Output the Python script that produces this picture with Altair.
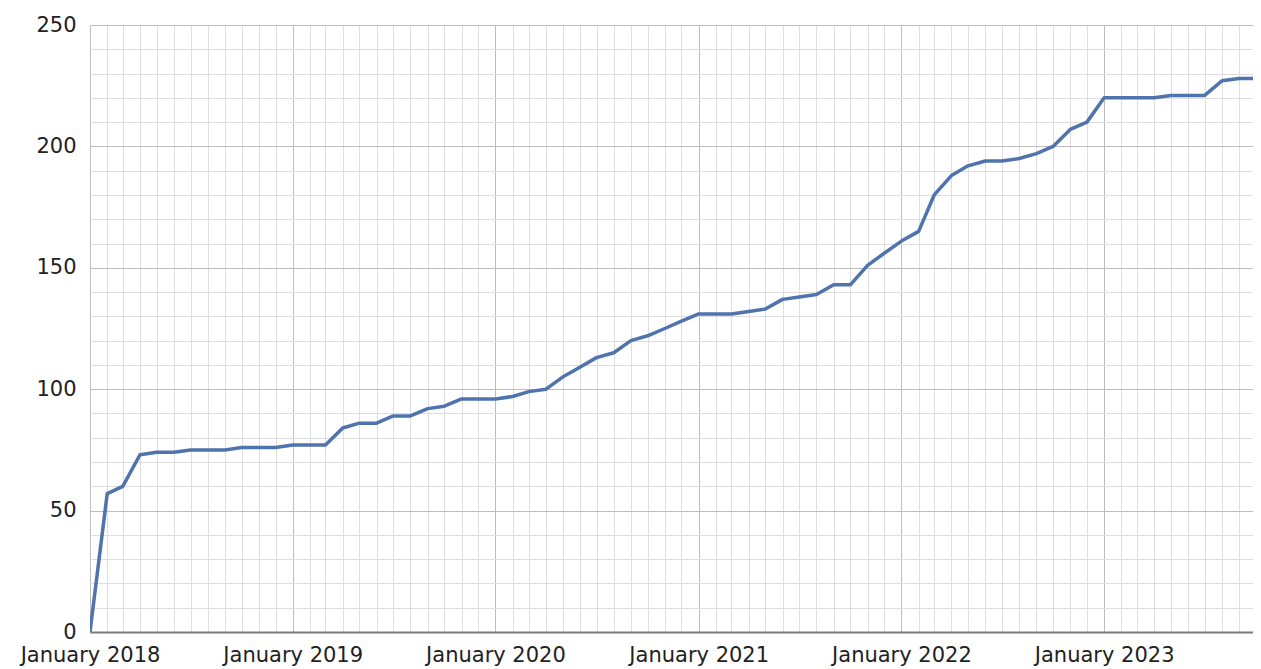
import altair as alt
import pandas as pd

# Monthly values (first point = January 2018)
values_2018 = [0, 57, 60, 73, 74, 74, 75, 75, 75, 76, 76, 76]
values_2019 = [77, 77, 77, 84, 86, 86, 89, 89, 92, 93, 96, 96]
values_2020 = [96, 97, 99, 100, 105, 109, 113, 115, 120, 122, 125, 128]
values_2021 = [131, 131, 131, 132, 133, 137, 138, 139, 143, 143, 151, 156]
values_2022 = [161, 165, 180, 188, 192, 194, 194, 195, 197, 200, 207, 210]
values_2023 = [220, 220, 220, 220, 221, 221, 221, 227, 228, 228]

y_ticks = list(range(0, 251, 10))

values = values_2018 + values_2019 + values_2020 + values_2021 + values_2022 + values_2023
months = pd.date_range("2018-01-01", periods=len(values), freq="MS")
df = pd.DataFrame({"month": months, "value": values})

MAJOR = "#bdbdbd"
MINOR = "#dedede"
FONT = "DejaVu Sans"

x_axis = alt.Axis(
    title=None,
    tickCount={"interval": "month", "step": 1},
    labelExpr="month(datum.value) === 0 ? timeFormat(datum.value, '%B %Y') : ''",
    labelOverlap=False,
    labelFlush=False,
    labelFont=FONT,
    labelFontSize=21,
    labelColor="#222222",
    labelPadding=12,
    ticks=False,
    grid=True,
    gridColor={"condition": {"test": "month(datum.value) === 0", "value": MAJOR}, "value": MINOR},
    gridWidth=1,
    domain=True,
    domainColor="#7a7a7a",
    domainWidth=2,
)

y_axis = alt.Axis(
    title=None,
    values=y_ticks,
    labelExpr="datum.value % 50 === 0 ? datum.label : ''",
    labelFont=FONT,
    labelFontSize=21,
    labelColor="#222222",
    labelPadding=14,
    ticks=False,
    domain=False,
    grid=True,
    gridColor={"condition": {"test": "datum.value % 50 === 0", "value": MAJOR}, "value": MINOR},
    gridWidth=1,
)

chart = (
    alt.Chart(df)
    .mark_line(color="#4f73ad", strokeWidth=3.5, strokeJoin="round", strokeCap="round", clip=True)
    .encode(
        x=alt.X(
            "month:T",
            axis=x_axis,
            scale=alt.Scale(
                domain=[
                    alt.DateTime(year=2018, month=1, date=1),
                    alt.DateTime(year=2023, month=9, date=26),
                ],
                nice=False,
            ),
        ),
        y=alt.Y("value:Q", axis=y_axis, scale=alt.Scale(domain=[0, 250], nice=False)),
    )
    .properties(
        width=1163,
        height=607,
        autosize=alt.AutoSizeParams(type="none"),
        padding={"left": 82, "top": 17, "right": 0, "bottom": 37},
        background="white",
    )
    .configure_view(strokeWidth=0)
)

chart.save("out.html", embed_options={"renderer": "svg", "actions": False})
